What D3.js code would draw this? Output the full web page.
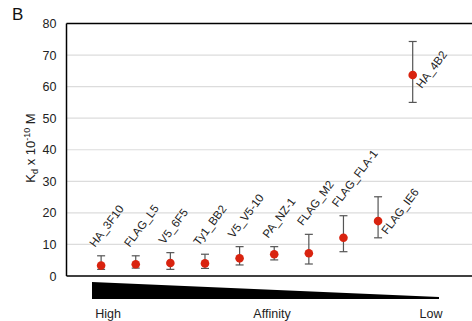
<!DOCTYPE html>
<html><head><meta charset="utf-8">
<script src="https://cdn.jsdelivr.net/npm/d3@7/dist/d3.min.js"></script>
<style>body{margin:0;background:#fff}svg{display:block;font-family:"Liberation Sans",Arial,sans-serif}</style>
</head><body><svg id="c" width="472" height="321"></svg>
<script>
const categories = ["HA_3F10","FLAG_L5","V5_6F5","Ty1_BB2","V5_V5-10","PA_NZ-1","FLAG_M2","FLAG_FLA-1","FLAG_IE6","HA_4B2"];
const kdValues  = [3.3, 3.7, 4.1, 4.0, 5.6, 6.9, 7.2, 12.1, 17.4, 63.7];
const errUpper  = [6.4, 6.4, 7.4, 6.9, 9.3, 9.3, 13.2, 19.1, 25.1, 74.3];
const errLower  = [2.1, 2.5, 2.1, 2.4, 3.5, 5.1, 3.8, 7.7, 12.1, 55.0];
const yTicks = [0,10,20,30,40,50,60,70,80];
const affinityLabels = ["High","Affinity","Low"];

const svg = d3.select("#c");
const L = 66.5, T = 23.5, B = 276;
const y = d3.scaleLinear().domain([0,80]).range([B,T]);
const x = d3.scaleLinear().domain([0,12]).range([L, L+34.62*12]);

// gridlines
svg.append("g").selectAll("line").data(yTicks.filter(d=>d>0&&d<80)).join("line")
  .attr("x1",L).attr("x2",472).attr("y1",d=>y(d)).attr("y2",d=>y(d))
  .attr("stroke","#dcdcdc").attr("stroke-width",1.2);

// axis
const ax = svg.append("g").attr("transform",`translate(${L},0)`)
  .call(d3.axisLeft(y).tickValues(yTicks).tickSize(0).tickPadding(10));
ax.select(".domain").remove();
ax.selectAll("text").attr("font-size",12.5).attr("fill","#222").attr("font-family","Liberation Sans, Arial, sans-serif");

// frame
svg.append("line").attr("x1",L).attr("x2",L).attr("y1",T).attr("y2",B).attr("stroke","#000").attr("stroke-width",1.5);
svg.append("line").attr("x1",L).attr("x2",472).attr("y1",B).attr("y2",B).attr("stroke","#000").attr("stroke-width",1.5);
svg.append("line").attr("x1",L).attr("x2",472).attr("y1",T).attr("y2",T).attr("stroke","#000").attr("stroke-width",1.5);

const data = categories.map((c,i)=>({c, i, v:kdValues[i], hi:errUpper[i], lo:errLower[i]}));

// error bars
const eb = svg.append("g").attr("stroke","#555").attr("stroke-width",1.2);
data.forEach(d=>{
  const cx = x(d.i+1);
  eb.append("line").attr("x1",cx).attr("x2",cx).attr("y1",y(d.hi)).attr("y2",y(d.lo));
  eb.append("line").attr("x1",cx-4).attr("x2",cx+4).attr("y1",y(d.hi)).attr("y2",y(d.hi));
  eb.append("line").attr("x1",cx-4).attr("x2",cx+4).attr("y1",y(d.lo)).attr("y2",y(d.lo));
});

// points
svg.append("g").selectAll("circle").data(data).join("circle")
  .attr("cx",d=>x(d.i+1)).attr("cy",d=>y(d.v)).attr("r",4.3)
  .attr("fill","#d9230f");

// labels
svg.append("g").selectAll("text").data(data).join("text")
  .attr("transform",d=>{
    const cx = x(d.i+1);
    if (d.i >= 8) return `translate(${cx+9},${y(d.v)+14}) rotate(-53)`;
    return `translate(${cx-6},${y(d.hi)-8}) rotate(-53)`;
  })
  .attr("font-size",11.5).attr("fill","#222").text(d=>d.c);

// title letter
svg.append("text").attr("x",12).attr("y",20).attr("font-size",17).attr("fill","#111").text("B");

// y title
const yt = svg.append("text").attr("transform","translate(35,148) rotate(-90)")
  .attr("text-anchor","middle").attr("font-size",13).attr("fill","#222");
yt.append("tspan").text("K");
yt.append("tspan").attr("font-size",9).attr("dy",3).text("d");
yt.append("tspan").attr("dy",-3).text(" x 10");
yt.append("tspan").attr("font-size",9).attr("dy",-5).text("-10");
yt.append("tspan").attr("dy",5).text(" M");

// wedge
svg.append("path").attr("d","M92,282 L439,297 L439,299 L92,299 Z").attr("fill","#000");

// affinity labels
const ap = [108, 272, 431];
svg.append("g").selectAll("text").data(affinityLabels).join("text")
  .attr("x",(d,i)=>ap[i]).attr("y",318).attr("text-anchor","middle")
  .attr("font-size",12.5).attr("fill","#222").text(d=>d);
</script></body></html>
